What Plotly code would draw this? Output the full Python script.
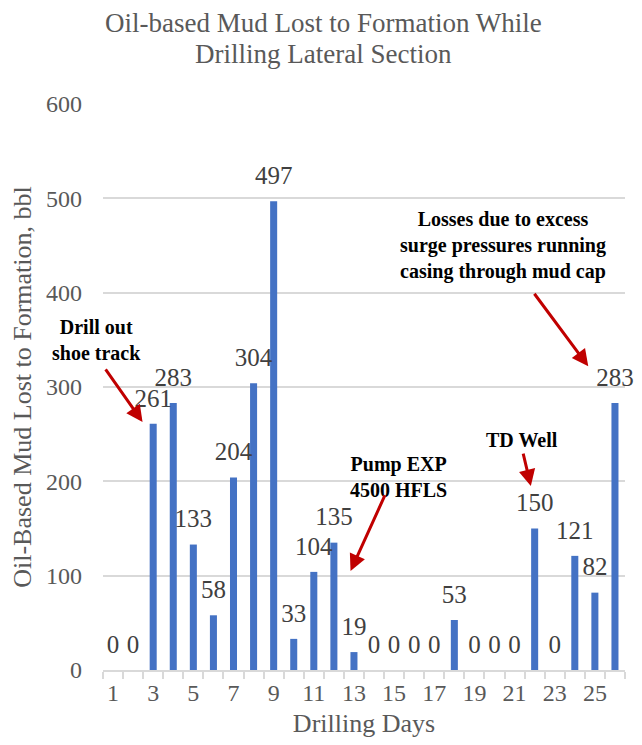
import plotly.graph_objects as go

days = list(range(1, 27))
mud_lost = [0, 0, 261, 283, 133, 58, 204, 304, 497, 33, 104, 135, 19, 0, 0, 0, 0, 53, 0, 0, 0, 150, 0, 121, 82, 283]
tick_vals = days
tick_text = [str(d) if d % 2 == 1 else "" for d in days]
y_ticks = [0, 100, 200, 300, 400, 500, 600]
title_lines = ["Oil-based Mud Lost to Formation While", "Drilling Lateral Section"]

# annotation notes: (text, paper x, paper y)
notes = [
    ("Drill out<br>shoe track", -0.012, 0.583),
    ("Pump EXP<br>4500 HFLS", 0.5655, 0.341),
    ("TD Well", 0.8027, 0.407),
    ("Losses due to excess<br>surge pressures running<br>casing through mud cap", 0.7657, 0.750),
]
# arrows: (head x, head y, tail dx px, tail dy px)
arrows = [
    (2.47, 263, -38, -54),
    (12.83, 105, 35, -77),
    (21.81, 195, -8, -34),
    (24.67, 322, -55, -74),
]

font_family = "Liberation Serif"
grey = "#595959"

fig = go.Figure()
fig.add_trace(go.Bar(
    x=days, y=mud_lost,
    marker=dict(color="#4472C4", line=dict(width=0)),
    width=0.35,
    hoverinfo="x+y",
))
fig.add_trace(go.Scatter(
    x=days, y=mud_lost,
    mode="markers+text",
    marker=dict(size=16, color="rgba(0,0,0,0)"),
    text=[str(v) for v in mud_lost],
    textposition="top center",
    textfont=dict(family=font_family, size=25, color="#404040"),
    cliponaxis=False,
    hoverinfo="skip",
))

for line, py in zip(title_lines, [1.1432, 1.0885]):
    fig.add_annotation(x=0.423, y=py, xref="paper", yref="paper", text=line,
                       showarrow=False, xanchor="center", yanchor="middle",
                       font=dict(family=font_family, size=27, color=grey))

for text, x, y in notes:
    fig.add_annotation(x=x, y=y, xref="paper", yref="paper", text="<b>" + text + "</b>",
                       showarrow=False, align="center", xanchor="center", yanchor="middle",
                       font=dict(family=font_family, size=20, color="#000000"))

for hx, hy, dx, dy in arrows:
    fig.add_annotation(x=hx, y=hy, xref="x", yref="y", text="", showarrow=True,
                       ax=dx, ay=dy, arrowhead=2, arrowsize=1.1, arrowwidth=3,
                       arrowcolor="#C00000", standoff=0)

fig.update_layout(
    width=634, height=737,
    margin=dict(l=90, r=17, t=96, b=74),
    paper_bgcolor="white", plot_bgcolor="white",
    showlegend=False,
    font=dict(family=font_family, color=grey),
)
fig.update_xaxes(
    range=[0.5, 26.5], tickmode="array", tickvals=tick_vals, ticktext=tick_text,
    ticks="", showgrid=False, zeroline=False,
    showline=True, linecolor="#D9D9D9", linewidth=1.5,
    minor=dict(tick0=0.5, dtick=1, ticks="outside", ticklen=7, tickcolor="#D9D9D9", tickwidth=1.5, showgrid=False),
    tickfont=dict(family=font_family, size=24, color=grey),
    title=dict(text="Drilling Days", font=dict(family=font_family, size=26, color=grey), standoff=9),
)
fig.update_yaxes(
    range=[0, 600], tickmode="array", tickvals=y_ticks,
    showgrid=True, gridcolor="#D9D9D9", gridwidth=1.5, zeroline=False,
    showline=False, ticks="", ticklabelstandoff=20,
    tickfont=dict(family=font_family, size=24, color=grey),
    title=dict(text="Oil-Based Mud Lost to Formation, bbl", font=dict(family=font_family, size=26, color=grey), standoff=8),
)

fig.write_html("out.html")
